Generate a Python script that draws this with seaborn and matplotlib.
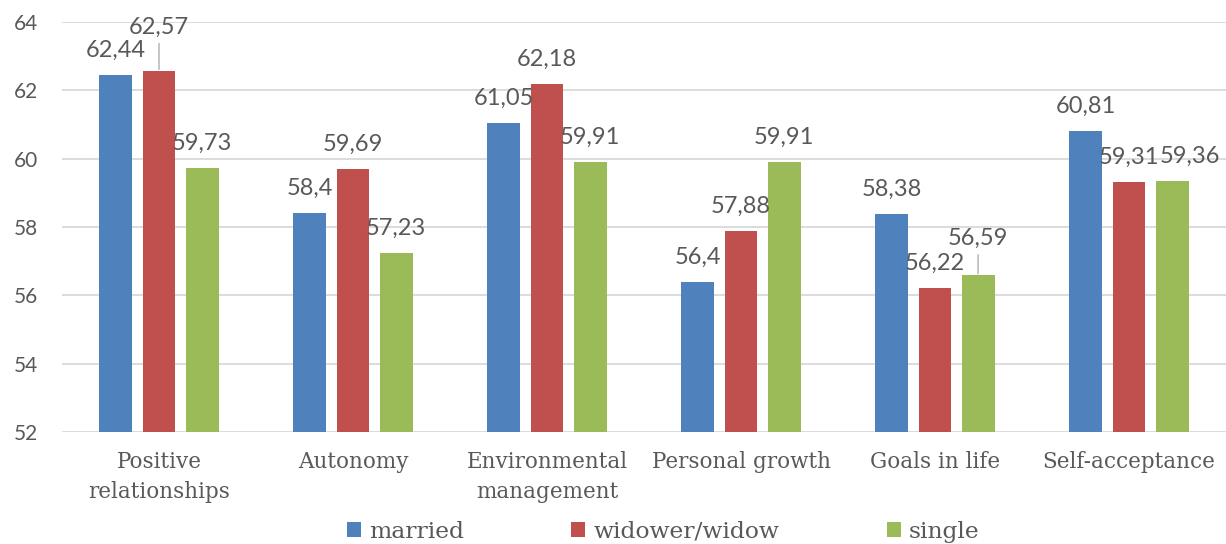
import numpy as np
import pandas as pd
import matplotlib
matplotlib.use("Agg")
import matplotlib.pyplot as plt
import seaborn as sns

# Psychological well-being dimensions by marital status
dimensions = ["Positive\nrelationships", "Autonomy", "Environmental\nmanagement",
              "Personal growth", "Goals in life", "Self-acceptance"]
statuses = ["married", "widower/widow", "single"]
married = [62.44, 58.4, 61.05, 56.4, 58.38, 60.81]
widowed = [62.57, 59.69, 62.18, 57.88, 56.22, 59.31]
single = [59.73, 57.23, 59.91, 59.91, 56.59, 59.36]
y_ticks = [52, 54, 56, 58, 60, 62, 64]

colors = ["#4F81BD", "#C0504D", "#9BBB59"]
text_grey = "#595959"
grid_grey = "#D9D9D9"

df = pd.DataFrame({
    "dimension": dimensions * 3,
    "status": np.repeat(statuses, len(dimensions)),
    "score": married + widowed + single,
})

sns.set_theme(style="white")
plt.rcParams["font.family"] = ["DejaVu Serif"]

fig = plt.figure(figsize=(12.26, 5.44), dpi=100)
ax = fig.add_axes([62 / 1226, 1 - 432 / 544, 1164 / 1226, 410 / 544])

sns.barplot(data=df, x="dimension", y="score", hue="status", hue_order=statuses,
            order=dimensions, palette=colors, width=0.666, gap=0.234,
            errorbar=None, saturation=1, linewidth=0, ax=ax)

ax.set_ylim(52, 64)
ax.set_xlim(-0.5, len(dimensions) - 0.5)
ax.set_yticks(y_ticks)
ax.yaxis.grid(True, color=grid_grey, linewidth=1.3)
ax.xaxis.grid(False)
ax.set_axisbelow(True)
for s in ax.spines.values():
    s.set_visible(False)
ax.set_xlabel("")
ax.set_ylabel("")
ax.tick_params(axis="y", length=0, pad=17, colors=text_grey)
ax.tick_params(axis="x", length=0, pad=14, colors=text_grey)
for lab in ax.get_yticklabels():
    lab.set_fontfamily("Lato")
    lab.set_fontsize(15)
for lab in ax.get_xticklabels():
    lab.set_fontfamily("DejaVu Serif")
    lab.set_fontsize(15.5)
    lab.set_linespacing(1.45)
    lab.set_multialignment("center")

# value labels; a few are nudged to avoid overlaps
nudges = {(1, 0): (0, 27, True), (2, 4): (0, 22, True), (2, 5): (13, 13, False)}
for si, cont in enumerate(ax.containers):
    for ci, bar in enumerate(cont):
        val = bar.get_height()
        xc = bar.get_x() + bar.get_width() / 2
        dx, dy, leader = nudges.get((si, ci), (0, 13, False))
        txt = f"{val:g}".replace(".", ",")
        kw = {}
        if leader:
            kw["arrowprops"] = dict(arrowstyle="-", color="#A6A6A6", lw=0.9,
                                    shrinkA=2, shrinkB=1)
        ax.annotate(txt, xy=(xc, val), xytext=(dx, dy), textcoords="offset points",
                    ha="center", va="baseline", fontsize=17, family="Lato",
                    color=text_grey, annotation_clip=False, **kw)

handles, labels = ax.get_legend_handles_labels()
ax.get_legend().remove()
fig.legend(handles, labels, loc="center", bbox_to_anchor=(0.541, 12 / 544), ncol=3,
           frameon=False, handlelength=0.6, handleheight=0.6, handletextpad=0.35,
           columnspacing=4.6, prop={"family": "DejaVu Serif", "size": 16.8},
           labelcolor=text_grey)

fig.savefig("out.png", dpi=100)
